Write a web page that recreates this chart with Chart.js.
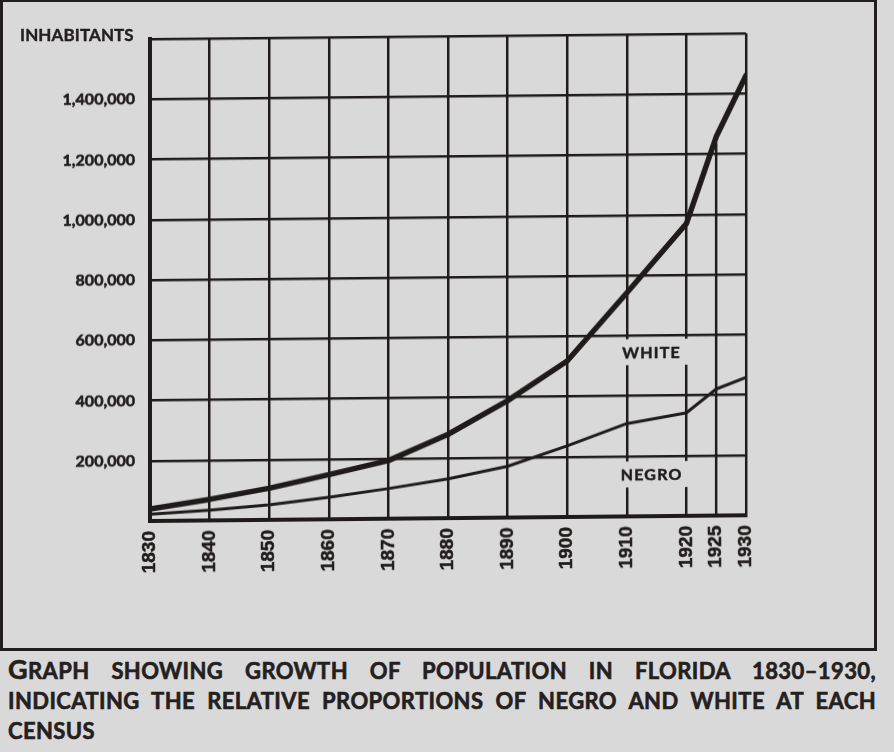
<!DOCTYPE html>
<html><head><meta charset="utf-8">
<script src="https://cdn.jsdelivr.net/npm/chart.js@4.4.1/dist/chart.umd.min.js"></script>
<style>
html,body{margin:0;padding:0;background:#d9d9d9;}
body{width:894px;height:752px;position:relative;overflow:hidden;font-family:Lato,"Open Sans",sans-serif;color:#242020;}
#box{position:absolute;left:0;top:0;width:871px;height:646px;border:solid #221e1e;border-width:2px 3px 3px 3px;}
#wrap{position:absolute;left:0;top:0;width:880px;height:600px;transform:skewY(-0.55deg);transform-origin:150px 0;}
#ytitle{position:absolute;left:20px;top:24px;font-weight:700;font-size:17px;letter-spacing:0.1px;-webkit-text-stroke:0.4px #242020;}
.cap{position:absolute;left:8px;width:868px;font-weight:700;font-size:22px;line-height:28px;letter-spacing:0.4px;-webkit-text-stroke:0.6px #242020;}
.just{text-align:justify;text-align-last:justify;}
.big{font-size:27px;}
</style></head>
<body>
<div id="box"></div>
<div id="wrap"><canvas id="c" width="880" height="600"></canvas></div>
<div id="ytitle">INHABITANTS</div>
<div class="cap just" style="top:655px"><span class="big">G</span>RAPH SHOWING GROWTH OF POPULATION IN FLORIDA 1830–1930,</div>
<div class="cap just" style="top:687px">INDICATING THE RELATIVE PROPORTIONS OF NEGRO AND WHITE AT EACH</div>
<div class="cap" style="top:717px">CENSUS</div>
<script>
// ---- data ----
const years = [1830, 1840, 1850, 1860, 1870, 1880, 1890, 1900, 1910, 1920, 1925, 1930];
const totalPop = [40000, 70000, 105000, 148000, 193000, 278000, 388000, 518000, 742000, 970000, 1257000, 1460000];
const negroPop = [22000, 34000, 50000, 73000, 100000, 130000, 170000, 236000, 308000, 342000, 420000, 458000];
const yTicks = [0, 200000, 400000, 600000, 800000, 1000000, 1200000, 1400000, 1600000];
const areaLabels = ['WHITE', 'NEGRO'];
const areaLabelYear = 1914;
const areaLabelValues = [545000, 139000];
const partialGridYear = 1925; // this census line is only drawn below the total curve

const INK = '#1f1b1b';
const BG = '#d9d9d9';

const partialGridPlugin = {
  id: 'partialGrid',
  beforeDatasetsDraw(chart) {
    const {ctx, scales: {x, y}} = chart;
    const i = years.indexOf(partialGridYear);
    const px = x.getPixelForValue(partialGridYear);
    ctx.save();
    ctx.strokeStyle = INK;
    ctx.lineWidth = 2.5;
    ctx.beginPath();
    ctx.moveTo(px, y.getPixelForValue(totalPop[i]) + 6);
    ctx.lineTo(px, y.getPixelForValue(0));
    ctx.stroke();
    ctx.restore();
  }
};

const labelPlugin = {
  id: 'areaLabels',
  afterDatasetsDraw(chart) {
    const {ctx, scales: {x, y}} = chart;
    ctx.save();
    ctx.font = '700 16px Lato, sans-serif';
    ctx.letterSpacing = '1.2px';
    ctx.textAlign = 'center';
    ctx.textBaseline = 'middle';
    ctx.lineWidth = 0.5;
    ctx.strokeStyle = INK;
    areaLabels.forEach((t, i) => {
      const px = x.getPixelForValue(areaLabelYear);
      const py = y.getPixelForValue(areaLabelValues[i]);
      const w = ctx.measureText(t).width;
      ctx.fillStyle = BG;
      ctx.fillRect(px - w / 2 - 11, py - 13, w + 22, 26);
      ctx.fillStyle = INK;
      ctx.fillText(t, px + 1, py + 1);
      ctx.strokeText(t, px + 1, py + 1);
    });
    ctx.restore();
  }
};

new Chart(document.getElementById('c'), {
  type: 'line',
  data: {
    datasets: [
      {label: 'Total', data: years.map((yr, i) => ({x: yr, y: totalPop[i]})), borderColor: INK, borderWidth: 5.5, pointRadius: 0, tension: 0, borderCapStyle: 'round', borderJoinStyle: 'round'},
      {label: 'Negro', data: years.map((yr, i) => ({x: yr, y: negroPop[i]})), borderColor: INK, borderWidth: 3, pointRadius: 0, tension: 0, borderCapStyle: 'round', borderJoinStyle: 'round'}
    ]
  },
  options: {
    responsive: false,
    animation: false,
    devicePixelRatio: 1,
    layout: {padding: {top: 39, right: 134, left: 0, bottom: 0}},
    plugins: {legend: {display: false}, tooltip: {enabled: false}, title: {display: false}},
    scales: {
      x: {
        type: 'linear', min: 1830, max: 1930,
        afterBuildTicks: s => { s.ticks = years.map(v => ({value: v})); },
        afterFit: s => { s.height = 79; },
        grid: {color: c => (c.tick && c.tick.value === partialGridYear) ? 'rgba(0,0,0,0)' : INK, lineWidth: 2.5, drawTicks: false},
        border: {color: INK, width: 4},
        ticks: {
          autoSkip: false, minRotation: 90, maxRotation: 90, padding: 10,
          color: INK, textStrokeColor: INK, textStrokeWidth: 0.5,
          font: {family: '"Liberation Sans Narrow", "Arial Narrow", "Liberation Sans", sans-serif', weight: '700', size: 19},
          callback: v => String(v)
        }
      },
      y: {
        min: 0, max: 1600000,
        afterBuildTicks: s => { s.ticks = yTicks.map(v => ({value: v})); },
        afterFit: s => { s.width = 150; },
        grid: {color: INK, lineWidth: 2.5, drawTicks: false},
        border: {color: INK, width: 4},
        ticks: {
          padding: 15, color: INK, textStrokeColor: INK, textStrokeWidth: 0.6,
          font: {family: 'Lato, sans-serif', weight: '700', size: 16},
          callback: v => (v === 0 || v === 1600000) ? '' : v.toLocaleString('en-US')
        }
      }
    }
  },
  plugins: [partialGridPlugin, labelPlugin]
});
</script>
</body></html>
